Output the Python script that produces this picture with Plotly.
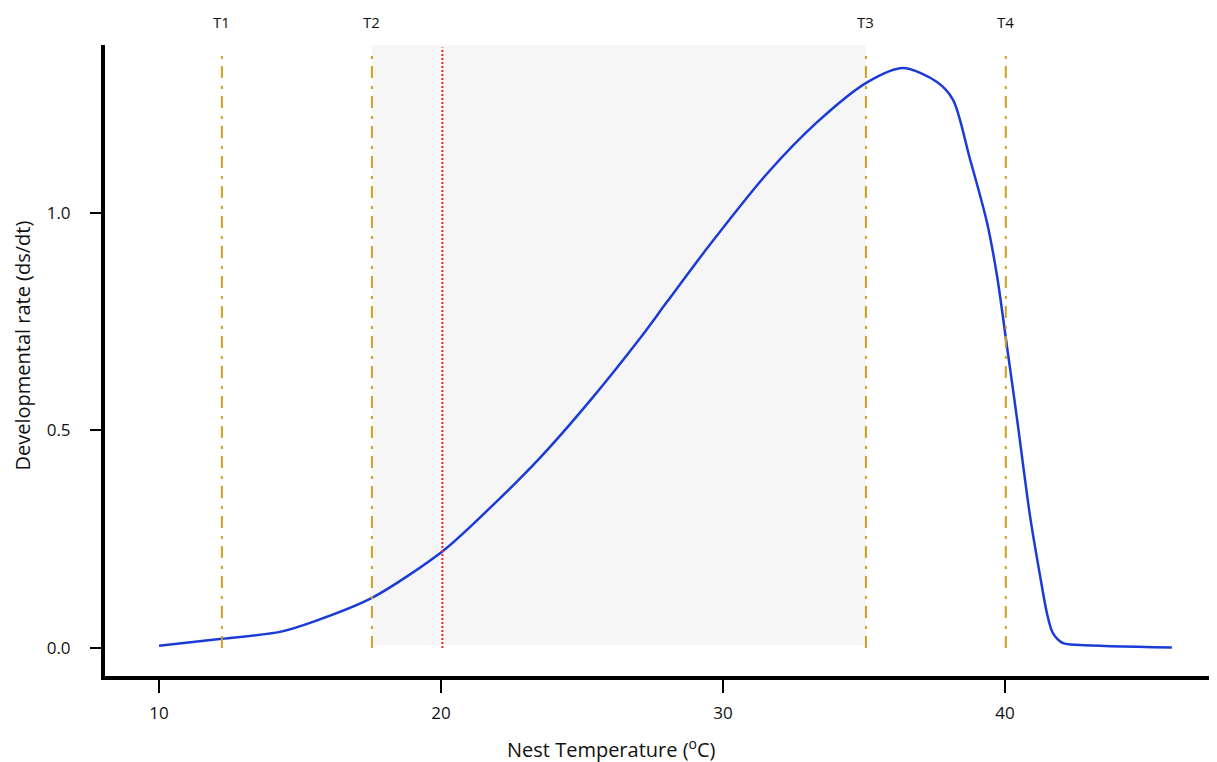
import plotly.graph_objects as go

# Curve data
temp = [10.0, 12.23, 14.29, 15.46, 17.55, 20.07, 21.74, 23.51, 25.28,
        27.06, 28.01, 29.43, 31.56, 33.33, 35.11, 36.38, 37.59, 38.16, 38.76,
        39.36, 39.72, 40.07, 40.43, 40.89, 41.24, 41.49, 41.70, 42.06, 42.66, 45.92]
rate = [0.005, 0.021, 0.037, 0.060, 0.115, 0.223, 0.322, 0.437, 0.568,
        0.712, 0.795, 0.918, 1.090, 1.208, 1.300, 1.333, 1.301, 1.260, 1.124,
        0.979, 0.855, 0.694, 0.526, 0.303, 0.168, 0.080, 0.034, 0.011, 0.007, 0.001]

thresholds = [12.23, 17.55, 35.07, 40.03]
threshold_labels = ["T1", "T2", "T3", "T4"]
optimum = 20.05
shade_range = [17.55, 35.07]

x_ticks = [10, 20, 30, 40]
y_ticks = [0.0, 0.5, 1.0]

XR = [8.085, 47.52]
YR = [-0.0644, 1.386]

font_family = "Open Sans"

fig = go.Figure()

fig.add_trace(go.Scatter(
    x=temp, y=rate, mode="lines",
    line=dict(color="#1b3bd6", width=2.5, shape="spline", smoothing=0.8),
    showlegend=False, hoverinfo="skip"))

shapes = []
shapes.append(dict(type="rect", xref="x", yref="y",
                   x0=shade_range[0], x1=shade_range[1], y0=0.007, y1=YR[1] + 0.005,
                   fillcolor="#f6f6f6", line=dict(width=0), layer="below"))
for t in thresholds:
    shapes.append(dict(type="line", xref="x", yref="y", x0=t, x1=t, y0=0.0, y1=1.378,
                       line=dict(color="#d1a01e", width=2, dash="12px,7px,3px,8px")))
shapes.append(dict(type="line", xref="x", yref="y", x0=optimum, x1=optimum, y0=0.0, y1=1.38,
                   line=dict(color="#ff2020", width=2, dash="2px,2px")))

annotations = []
for t, lab in zip(thresholds, threshold_labels):
    annotations.append(dict(x=t, y=1, xref="x", yref="paper", yshift=23, yanchor="middle",
                            text=lab, showarrow=False,
                            font=dict(size=15, color="#111111", family=font_family)))
annotations.append(dict(x=0, xref="paper", y=0.5, yref="paper", xshift=-83, yshift=15,
                        xanchor="center", yanchor="middle",
                        text="Developmental rate (ds/dt)", textangle=-90, showarrow=False,
                        font=dict(size=20, color="#111111", family=font_family)))
annotations.append(dict(x=0.5, xref="paper", y=0, yref="paper", xshift=-50, yshift=-72,
                        xanchor="center", yanchor="middle",
                        text="Nest Temperature (<sup>o</sup>C)", showarrow=False,
                        font=dict(size=20, color="#111111", family=font_family)))

fig.update_layout(
    width=1209, height=754,
    margin=dict(l=97, r=0, t=37, b=86),
    paper_bgcolor="white", plot_bgcolor="white",
    shapes=shapes, annotations=annotations,
    font=dict(family=font_family, size=17, color="#111111"),
    xaxis=dict(range=XR, tickvals=x_ticks, ticktext=[str(v) for v in x_ticks],
               showgrid=False, zeroline=False, showline=True, linecolor="black",
               linewidth=4, ticks="outside", ticklen=13, tickwidth=1.5, tickcolor="black",
               tickfont=dict(size=17, family=font_family, color="#111111"),
               ticklabelstandoff=6),
    yaxis=dict(range=YR, tickvals=y_ticks, ticktext=["%.1f" % v for v in y_ticks],
               showgrid=False, zeroline=False, showline=True, linecolor="black",
               linewidth=4, ticks="outside", ticklen=11, tickwidth=1.5, tickcolor="black",
               tickfont=dict(size=17, family=font_family, color="#111111"),
               ticklabelstandoff=16),
)

fig.write_html("out.html")
